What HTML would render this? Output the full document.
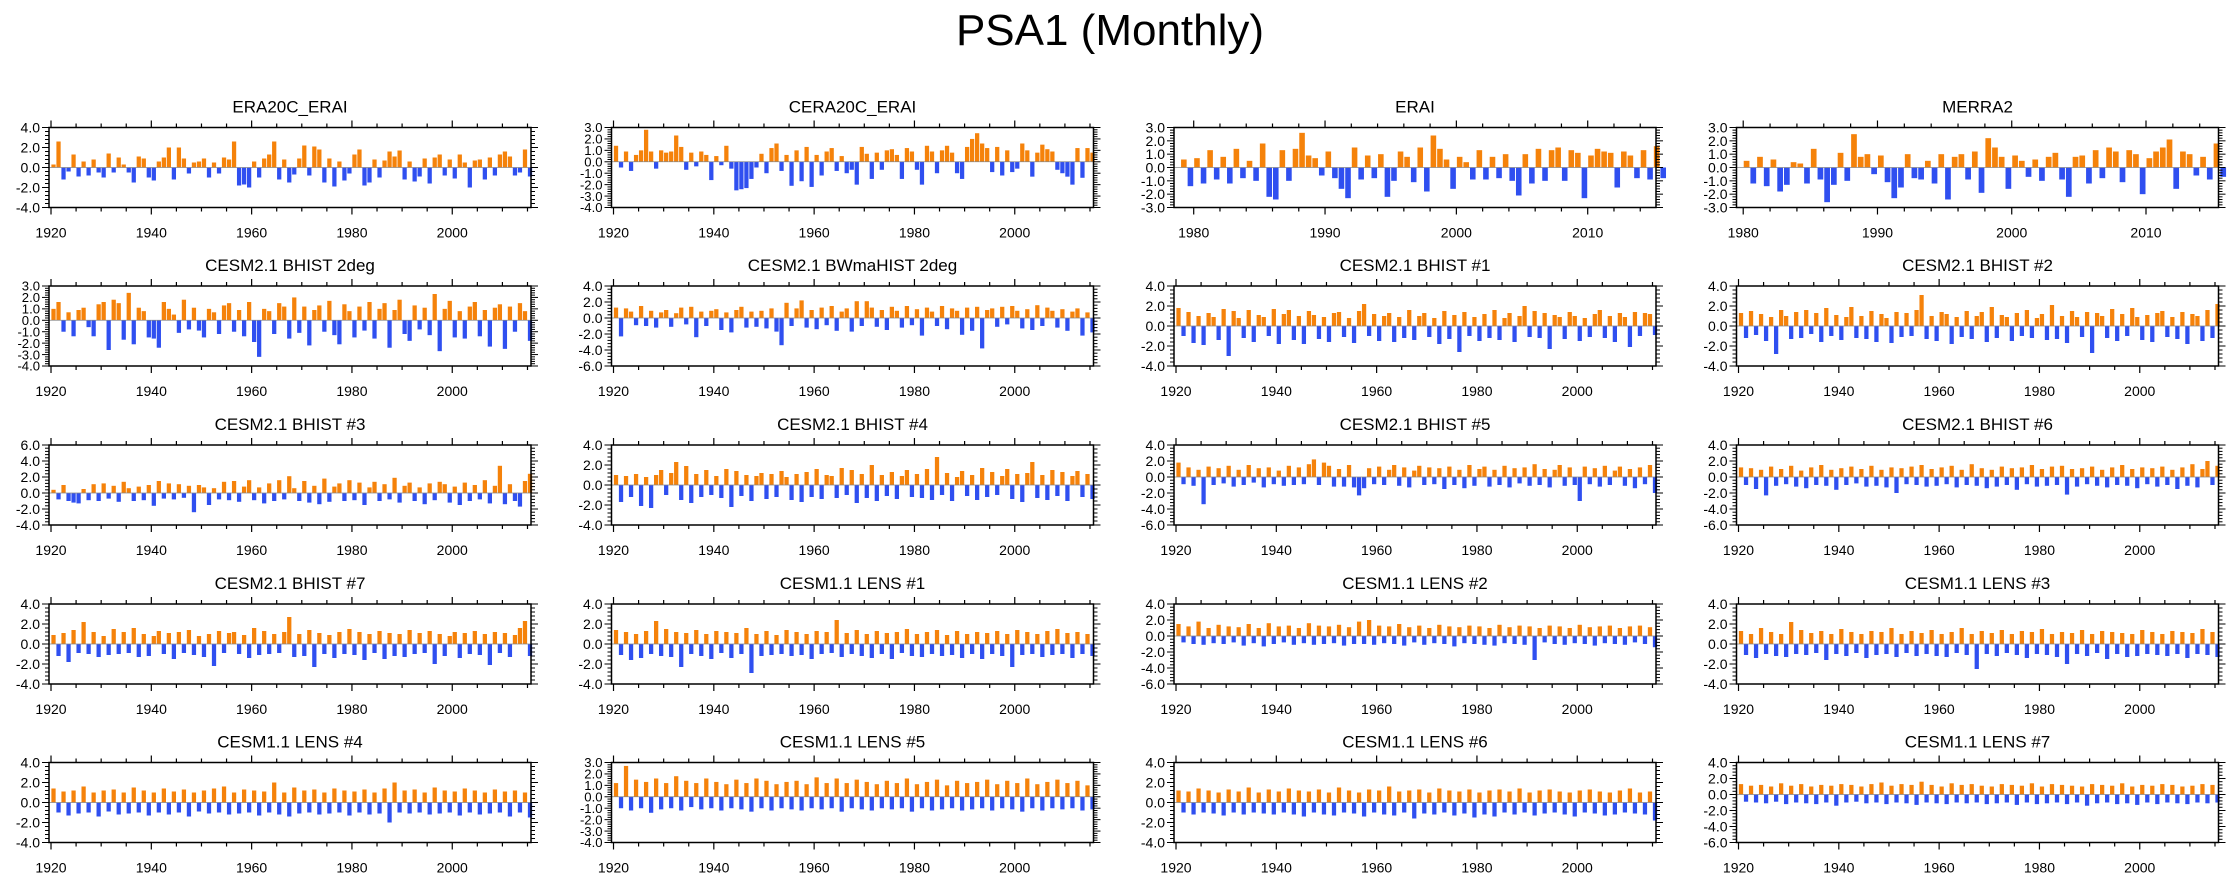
<!DOCTYPE html>
<html>
<head>
<meta charset="utf-8">
<style>
html,body{margin:0;padding:0;background:#fff;}
svg{display:block;font-family:"Liberation Sans",Arial,sans-serif;}
</style>
</head>
<body>
<svg id="chart" width="2238" height="877" viewBox="0 0 2238 877" xmlns="http://www.w3.org/2000/svg">
<rect x="0" y="0" width="2238" height="877" fill="#fff"/>
<text x="1110" y="45" font-size="44" text-anchor="middle" fill="#000">PSA1 (Monthly)</text>
</svg>
<script>
// ---- panel metadata ----
const panelTitles = ["ERA20C_ERAI","CERA20C_ERAI","ERAI","MERRA2",
 "CESM2.1 BHIST 2deg","CESM2.1 BWmaHIST 2deg","CESM2.1 BHIST #1","CESM2.1 BHIST #2",
 "CESM2.1 BHIST #3","CESM2.1 BHIST #4","CESM2.1 BHIST #5","CESM2.1 BHIST #6",
 "CESM2.1 BHIST #7","CESM1.1 LENS #1","CESM1.1 LENS #2","CESM1.1 LENS #3",
 "CESM1.1 LENS #4","CESM1.1 LENS #5","CESM1.1 LENS #6","CESM1.1 LENS #7"];
const yMins = [-4,-4,-3,-3, -4,-6,-4,-4, -4,-4,-6,-6, -4,-4,-6,-4, -4,-4,-4,-6];
const yMaxs = [4,3,3,3, 3,4,4,4, 6,4,4,4, 4,4,4,4, 4,3,4,4];
const ySteps = [2,1,1,1, 1,2,2,2, 2,2,2,2, 2,2,2,2, 2,1,2,2];
const longTicks = [1920,1940,1960,1980,2000];
const shortTicks = [1980,1990,2000,2010];

// ---- series values (yearly for 1920-2015 panels, half-yearly for reanalysis 1979/1980-2015) ----
const vEra20c = [0.3,2.6,-1.2,-0.4,1.3,-0.9,0.6,-0.8,0.8,-0.5,-1.0,1.4,
-0.5,1.0,0.3,-0.5,-1.5,1.1,0.9,-1.0,-1.3,0.6,1.0,2.0,
-1.2,2.0,0.9,-0.6,0.5,0.6,0.9,-1.0,0.5,-0.6,1.0,0.8,
2.6,-1.8,-1.7,-2.0,0.6,-1.0,0.9,1.3,2.6,-1.2,0.8,-1.5,
-0.7,0.9,2.2,-0.8,2.1,1.8,-1.5,0.9,-1.9,0.6,-1.3,-0.6,
1.3,1.8,-1.8,-1.5,0.8,-1.0,0.7,1.6,1.1,1.7,-1.2,0.6,
-1.4,-0.9,0.9,-1.6,1.0,1.3,-0.8,0.8,-1.1,1.3,0.5,-2.0,
0.7,0.8,-1.2,1.0,-0.8,1.3,1.6,1.1,-0.8,-0.5,1.8,-0.9];
const vCera20c = [1.4,-0.5,0.9,-0.8,0.6,1.0,2.8,0.9,-0.6,1.0,0.8,0.9,
2.3,1.3,-0.7,0.8,-0.4,0.9,0.6,-1.6,0.5,-0.3,1.4,-0.6,
-2.5,-2.4,-2.3,-1.5,-0.5,0.7,-1.0,1.2,1.6,-0.8,0.6,-2.1,
1.0,-1.7,1.3,-2.2,0.6,-1.2,0.9,1.2,-0.8,0.5,-1.0,-0.7,
-2.0,1.3,0.7,-1.5,0.8,-0.7,1.0,1.1,0.6,-1.5,1.2,0.9,
-0.7,-2.0,1.4,0.9,-1.0,1.0,1.4,0.8,-1.0,-1.5,1.3,2.0,
2.5,1.6,1.2,-0.9,1.3,-1.2,1.0,-0.9,-0.6,1.6,1.0,-1.3,
0.8,1.5,1.1,0.9,-0.7,-1.0,-1.3,-2.0,1.2,-1.4,1.2,0.8];
const vErai = [0.6,-1.4,0.7,-1.2,1.3,-0.9,0.8,-1.2,1.4,-0.8,0.5,-1.0,1.8,-2.2,-2.4,1.3,-1.0,1.4,2.6,0.9,
0.7,-0.6,1.2,-0.8,-1.6,-2.3,1.5,-0.9,0.9,-0.8,1.0,-2.2,-1.0,1.2,0.8,-1.1,1.5,-1.8,2.4,1.4,
0.6,-1.6,0.8,0.4,-0.9,1.3,-0.9,0.8,-0.8,1.0,-1.0,-2.1,1.0,-1.2,1.4,-1.0,1.3,1.5,-1.0,1.3,
1.1,-2.3,0.9,1.4,1.2,1.1,-1.5,1.2,0.9,-0.8,1.3,-0.9,1.6,-0.8];
const vMerra2 = [0.5,-1.2,0.8,-1.4,0.6,-1.8,-1.3,0.4,0.3,-1.2,1.4,-0.9,-2.6,-1.3,1.1,-1.0,2.5,0.8,
1.0,-0.5,0.9,-1.1,-2.3,-1.5,1.0,-0.8,-0.9,0.5,-1.2,1.0,-2.4,0.8,1.0,-0.9,1.2,-1.9,2.2,1.5,
0.8,-1.6,0.9,0.5,-0.7,0.6,-1.0,0.8,1.1,-0.9,-2.2,0.8,0.9,-1.2,1.3,-0.8,1.5,1.2,-1.1,1.3,
1.0,-2.0,0.7,1.2,1.5,2.1,-1.6,1.2,1.0,-0.6,0.8,-0.9,1.8,-0.7];
const vBhist2deg = [1.0,1.6,-1.0,0.7,-1.4,0.9,1.1,-0.6,-1.4,1.4,1.6,-2.6,
1.8,1.5,-1.7,2.4,-2.1,1.1,0.8,-1.5,-1.6,-2.4,1.6,1.0,
0.5,-1.1,1.8,-0.8,1.1,-0.9,-1.5,1.0,0.7,-1.2,1.3,1.5,
-1.0,0.9,-1.4,1.6,-1.9,-3.2,1.0,0.8,-1.2,1.5,1.2,-1.6,
2.0,-1.1,1.2,-2.2,0.9,1.3,-1.0,1.7,-1.3,-2.1,1.4,0.8,
-1.5,1.2,-0.9,1.6,-1.6,1.0,1.5,-2.4,0.9,1.8,-1.2,-1.8,
1.3,-0.8,1.1,-1.3,2.3,-2.7,1.0,1.7,-1.5,0.8,-1.6,1.2,
1.6,-1.4,0.9,-2.3,1.1,1.4,-2.5,1.2,-1.0,1.5,0.8,-1.8];
const vBwma = [1.3,-2.3,1.2,0.8,-0.9,1.5,-1.0,0.9,-1.2,0.7,1.0,-1.1,
0.6,1.3,-0.8,1.4,-2.4,0.8,-1.0,0.9,1.1,-1.5,0.7,-1.8,
1.0,1.4,-1.2,0.8,-1.1,0.9,-1.3,1.2,-1.7,-3.4,1.9,-1.0,
1.2,2.2,-1.2,1.0,-1.4,1.3,-0.9,1.5,-1.6,0.8,1.2,-1.7,
2.1,-1.0,2.1,1.3,-1.1,1.0,-1.5,1.4,0.9,-1.2,1.5,-0.9,
1.1,-2.2,1.3,0.8,-1.0,1.5,-1.4,1.2,0.9,-2.1,1.3,-1.6,
1.4,-3.8,1.0,1.2,-1.1,1.4,-0.8,1.5,0.9,-1.3,1.1,-1.5,
1.6,-1.0,1.3,0.9,-1.2,1.1,-1.6,0.8,1.2,-2.2,0.7,-1.8];
const vBhist1 = [1.8,-1.0,1.4,-1.7,1.0,-1.9,1.3,0.9,-1.4,1.7,-3.0,1.5,
0.8,-1.2,1.6,-1.6,1.1,0.9,-1.0,1.7,-1.8,1.2,1.6,-1.4,
1.0,-1.8,1.5,1.1,-1.3,0.9,-1.6,1.3,1.4,-1.1,0.8,-1.7,
1.5,2.2,-1.0,1.2,-1.5,1.0,1.3,-1.6,0.9,-1.2,1.6,-1.4,
1.0,1.3,-1.1,0.8,-1.8,1.5,-1.3,1.1,-2.6,1.4,-1.0,0.9,
-1.5,1.2,-1.2,1.6,-1.4,0.8,1.3,-1.6,1.0,2.0,-1.1,1.5,
-1.2,1.3,-2.3,1.1,0.9,-1.3,1.4,1.0,-1.5,0.8,-1.1,1.2,
1.6,-1.2,1.0,-1.6,1.3,0.9,-2.1,1.4,-1.0,1.3,1.2,-0.9];
const vBhist2 = [1.3,-1.2,1.5,-0.9,1.2,-1.5,0.9,-2.8,1.6,1.0,-1.3,1.4,
-1.2,1.6,-0.8,1.3,-1.6,1.8,-1.0,1.1,-1.4,0.9,1.9,-1.2,
1.0,-1.3,1.5,-1.6,1.2,0.8,-1.7,1.4,-1.1,1.3,-1.0,1.6,
3.1,-1.3,1.0,-1.5,1.4,1.2,-1.8,0.9,-1.1,1.5,-1.3,1.0,
1.4,-1.6,1.9,-1.2,1.1,0.9,-1.5,1.3,-1.0,1.6,-1.2,0.8,
1.2,-1.4,2.1,-1.3,1.0,-1.7,1.5,0.9,-1.1,1.4,-2.7,1.3,
1.0,-1.2,1.7,-1.5,1.2,-1.0,1.8,0.9,-1.4,1.1,-1.6,1.3,
1.5,-1.1,0.9,-1.3,1.4,-1.8,1.2,1.0,-1.5,1.6,-1.2,2.2];
const vBhist3 = [0.4,-0.8,1.0,-1.0,-1.2,-1.3,0.5,-0.9,1.1,-1.0,1.2,-0.7,
0.9,-1.1,1.4,0.6,-1.0,0.8,-0.9,1.0,-1.6,1.5,-0.7,1.2,
-0.8,1.1,-0.6,0.9,-2.4,1.0,0.7,-1.5,0.6,-0.8,1.4,-0.9,
1.5,-1.1,0.8,1.6,-0.9,0.7,-1.3,1.2,-1.0,1.6,-0.8,2.1,
0.6,-1.0,1.5,-1.2,0.9,-1.4,1.8,-1.1,0.8,1.2,-1.0,1.6,
-0.9,1.3,-1.5,0.7,1.4,-1.0,1.1,-0.8,1.9,-1.2,0.9,1.3,
-1.0,0.7,-1.4,1.2,-0.9,1.4,1.1,-1.2,0.8,-1.5,1.3,-1.0,
1.0,-0.8,1.6,-1.3,0.9,3.4,-1.4,1.1,-1.0,-1.7,1.5,2.4];
const vBhist4 = [1.0,-1.7,0.9,-1.2,1.1,-2.1,0.8,-2.3,1.0,1.5,-1.0,1.2,
2.3,-1.5,1.9,-1.8,1.1,-1.2,1.5,-1.0,0.9,-1.3,1.6,-2.2,
1.4,-1.1,1.0,-1.6,0.9,1.2,-1.4,1.1,-1.2,1.4,0.8,-1.5,
1.1,-1.7,1.3,-1.2,1.6,-1.4,1.0,0.9,-1.3,1.7,-1.0,1.5,
-1.8,1.1,-1.3,2.0,-1.6,1.0,-1.1,1.3,-1.4,0.9,1.5,-1.2,
1.1,-1.3,1.6,-1.5,2.8,-1.0,1.2,-1.6,0.8,1.4,-1.1,1.0,
-1.5,1.7,-1.2,1.3,-1.0,0.9,1.6,-1.4,1.1,-1.7,1.2,2.3,
-1.3,1.0,-1.5,1.5,-1.1,1.3,-1.6,0.9,1.4,-1.2,1.1,-1.4];
const vBhist5 = [1.8,-0.9,1.2,-1.1,0.9,-3.4,1.3,-1.0,1.1,-0.8,1.4,-1.2,
0.9,-1.0,1.5,-0.7,1.1,-1.3,1.2,-0.9,0.8,-1.1,1.4,-1.0,
1.2,-0.9,1.6,2.2,-1.0,1.8,1.4,-1.2,1.0,-1.2,1.5,-1.3,
-2.3,-1.4,1.1,-0.9,1.3,-1.0,0.9,1.5,-1.1,1.2,-1.3,0.8,
1.4,-1.0,1.2,-0.9,1.1,-1.5,1.3,-1.0,0.9,-1.4,1.5,-1.1,
1.0,1.3,-1.2,0.9,-1.0,1.4,-1.3,1.1,-0.8,1.2,-1.1,1.6,
-1.0,1.0,-1.3,0.9,1.5,-1.1,1.2,-1.0,-3.0,1.3,-0.9,1.1,
-1.2,1.4,-1.0,0.8,1.3,-1.1,1.0,-1.4,1.2,-0.9,1.5,-2.0];
const vBhist6 = [1.2,-1.0,1.1,-1.5,0.9,-2.3,1.3,-1.1,1.0,-0.9,1.4,-1.2,
0.8,-1.4,1.2,-1.0,1.5,-1.1,0.9,-1.6,1.1,-1.0,1.3,-0.8,
1.0,-1.2,1.4,-1.1,0.9,-1.3,1.2,-2.0,1.1,-0.9,1.3,-1.0,
1.5,-1.2,1.0,-1.1,1.2,-0.9,1.4,-1.3,0.9,-1.0,1.6,-1.1,
1.1,-1.4,0.9,-1.2,1.3,-1.0,1.1,-1.6,1.2,-0.9,1.5,-1.2,
1.0,-1.1,1.3,-1.0,1.4,-2.2,1.0,-1.2,1.1,-0.9,1.3,-1.1,
0.9,-1.3,1.2,-1.0,1.5,-1.1,1.0,-1.4,1.2,-0.9,1.1,-1.2,
1.3,-1.0,0.9,-1.5,1.2,-1.1,1.6,-1.3,1.0,2.0,-1.0,1.4];
const vBhist7 = [0.9,-1.2,1.1,-1.8,1.4,-0.9,2.2,-1.0,1.2,-1.3,0.8,-1.1,
1.5,-1.0,1.2,-0.9,1.6,-1.3,1.0,-1.2,0.8,1.3,-1.0,1.1,
-1.5,1.2,-0.9,1.4,-1.1,0.8,-1.3,1.0,-2.2,1.3,-0.9,1.1,
1.2,-1.0,0.9,-1.4,1.6,-1.1,1.3,-1.0,1.0,-0.9,1.2,2.7,
-1.3,1.0,-1.2,1.4,-2.3,1.1,-1.0,0.9,-1.4,1.2,-1.0,1.5,
-1.1,1.2,-1.6,1.0,-0.9,1.3,-1.5,1.1,-1.2,1.0,-1.3,1.4,
-1.0,1.1,-0.9,1.3,-2.0,1.0,-1.2,0.8,1.2,-1.4,1.1,-1.0,
1.3,-1.1,1.0,-2.1,1.2,-0.9,1.1,-1.3,0.9,1.6,2.3,-1.2];
const vLens1 = [1.4,-1.1,1.2,-1.6,1.0,-1.4,1.3,-1.0,2.3,-1.2,1.5,-1.3,
1.2,-2.3,1.1,-1.0,1.4,-1.2,1.0,-1.5,1.3,-0.9,1.2,-1.4,
1.1,-1.0,1.6,-2.9,1.0,-1.2,1.3,-1.1,0.9,-1.0,1.4,-1.2,
1.2,-1.1,1.0,-1.5,1.3,-1.0,1.2,-0.9,2.4,-1.3,1.1,-1.0,
1.4,-1.2,1.0,-1.4,1.3,-1.0,1.1,-1.5,1.2,-0.9,1.5,-1.2,
1.0,-1.3,1.2,-1.0,1.4,-1.2,0.9,-1.1,1.3,-1.4,1.0,-1.0,
1.2,-1.5,1.1,-1.0,1.3,-1.2,1.0,-2.3,1.4,-1.1,1.2,-1.0,
1.0,-1.3,1.3,-1.1,1.5,-1.0,1.1,-1.4,1.2,-1.0,1.0,-1.2];
const vLens2 = [1.5,-0.8,1.2,-1.0,1.8,-1.1,1.0,-0.9,1.4,-1.0,1.2,-0.8,
1.1,-1.2,1.5,-0.9,1.0,-1.3,1.6,-1.0,1.2,-0.8,1.3,-1.1,
1.0,-0.9,1.6,-1.1,1.3,-1.0,1.2,-0.9,1.4,-1.2,1.1,-1.0,
1.8,-1.0,2.0,-1.1,1.3,-0.9,1.2,-1.0,1.5,-1.2,1.1,-0.8,
1.3,-1.1,1.0,-0.9,1.4,-1.0,1.2,-1.3,1.1,-0.9,1.3,-1.0,
1.2,-1.1,1.0,-1.2,1.4,-0.9,1.1,-1.0,1.3,-1.1,1.2,-3.0,
1.0,-0.8,1.3,-1.0,1.2,-1.1,1.0,-0.9,1.4,-1.0,1.1,-1.2,
1.2,-0.9,1.3,-1.0,1.0,-1.1,1.2,-0.8,1.3,-1.0,1.1,-1.4];
const vLens3 = [1.3,-1.1,1.0,-1.4,1.6,-1.0,1.2,-1.2,1.0,-1.3,2.2,-1.0,
1.4,-1.1,1.1,-0.9,1.3,-1.6,1.0,-1.0,1.5,-1.2,1.2,-0.9,
1.0,-1.4,1.3,-1.1,1.2,-1.0,1.6,-1.3,1.0,-0.9,1.3,-1.2,
1.1,-1.0,1.4,-1.2,1.0,-1.3,1.2,-0.9,1.6,-1.1,1.0,-2.5,
1.3,-1.0,1.1,-1.2,1.4,-0.9,1.0,-1.1,1.3,-1.4,1.2,-1.0,
1.5,-1.1,1.0,-1.3,1.2,-2.0,1.1,-1.0,1.4,-1.2,1.0,-0.9,
1.3,-1.5,1.2,-1.0,1.1,-1.3,1.0,-1.2,1.4,-1.0,1.2,-1.1,
1.0,-1.2,1.3,-1.0,1.2,-1.4,1.1,-1.0,1.5,-1.1,1.2,-1.3];
const vLens4 = [1.4,-1.0,1.1,-1.3,1.2,-1.1,1.6,-1.0,1.0,-1.4,1.2,-0.9,
1.3,-1.2,1.0,-1.1,1.5,-1.0,1.2,-1.3,1.0,-1.0,1.4,-1.2,
1.1,-1.0,1.3,-1.4,1.0,-0.9,1.2,-1.1,1.4,-1.0,1.6,-1.2,
1.0,-1.1,1.3,-1.0,1.2,-1.3,1.1,-1.0,2.0,-1.2,1.0,-1.4,
1.5,-1.1,1.2,-1.0,1.3,-1.2,1.0,-1.1,1.4,-1.0,1.2,-1.3,
1.1,-1.0,1.3,-1.2,1.0,-1.1,1.4,-2.0,2.0,-1.0,1.2,-1.1,
1.3,-1.0,1.0,-1.2,1.5,-1.1,1.2,-1.0,1.1,-1.3,1.4,-1.0,
1.2,-1.2,1.0,-1.1,1.3,-1.0,1.1,-1.4,1.2,-1.0,1.0,-1.5];
const vLens5 = [1.2,-1.0,2.7,-1.2,1.5,-1.0,1.3,-1.4,1.6,-1.1,1.2,-1.0,
1.8,-1.2,1.4,-0.9,1.2,-1.1,1.6,-1.0,1.3,-1.2,1.1,-1.0,
1.5,-1.1,1.2,-1.3,1.6,-1.0,1.4,-1.2,1.1,-1.0,1.3,-1.1,
1.4,-1.2,1.1,-1.0,1.7,-1.1,1.2,-1.0,1.6,-1.3,1.2,-1.0,
1.5,-1.1,1.3,-1.2,1.1,-1.0,1.4,-1.1,1.2,-1.0,1.6,-1.3,
1.1,-1.0,1.3,-1.2,1.5,-1.1,1.0,-1.0,1.4,-1.2,1.2,-1.1,
1.3,-1.0,1.5,-1.2,1.1,-1.0,1.4,-1.1,1.2,-1.3,1.6,-1.0,
1.1,-1.2,1.3,-1.0,1.5,-1.1,1.2,-1.0,1.4,-1.2,1.0,-1.1];
const vLens6 = [1.2,-1.0,1.1,-1.2,1.4,-1.0,1.2,-1.1,1.0,-1.3,1.3,-1.0,
1.1,-1.2,1.5,-1.0,1.0,-1.1,1.3,-1.2,1.1,-1.0,1.4,-1.2,
1.2,-1.4,1.1,-1.0,1.3,-1.2,1.0,-1.3,1.5,-1.0,1.2,-1.1,
1.0,-1.4,1.3,-1.0,1.2,-1.2,1.6,-1.3,1.1,-1.0,1.2,-1.6,
1.3,-1.1,1.0,-1.2,1.4,-1.0,1.2,-1.3,1.1,-1.1,1.3,-1.5,
1.0,-1.2,1.2,-1.4,1.3,-1.0,1.1,-1.2,1.4,-1.0,1.0,-1.3,
1.2,-1.1,1.3,-1.0,1.1,-1.2,1.0,-1.4,1.2,-1.0,1.3,-1.1,
1.1,-1.3,1.0,-1.2,1.2,-1.0,1.4,-1.1,1.0,-1.2,1.1,-1.8];
const vLens7 = [1.3,-0.9,1.1,-1.0,1.2,-1.1,1.0,-0.9,1.4,-1.2,1.1,-1.0,
1.3,-1.1,1.0,-1.2,1.2,-1.0,1.1,-1.4,1.3,-1.0,1.2,-0.9,
1.0,-1.1,1.3,-1.0,1.5,-1.2,1.1,-1.0,1.3,-1.1,1.2,-1.3,
1.6,-1.0,1.2,-1.1,1.0,-1.2,1.4,-1.0,1.2,-1.1,1.3,-1.0,
1.1,-1.2,1.0,-1.1,1.3,-1.0,1.2,-1.3,1.1,-1.0,1.4,-1.2,
1.0,-1.1,1.3,-1.0,1.2,-1.2,1.1,-1.0,1.0,-1.4,1.3,-1.1,
1.2,-1.0,1.1,-1.2,1.4,-1.1,1.0,-1.3,1.2,-1.0,1.1,-1.2,
1.3,-1.0,1.2,-1.1,1.0,-1.2,1.1,-1.0,1.3,-1.1,1.2,-1.0];

const seriesList = [vEra20c,vCera20c,vErai,vMerra2,vBhist2deg,vBwma,vBhist1,vBhist2,
 vBhist3,vBhist4,vBhist5,vBhist6,vBhist7,vLens1,vLens2,vLens3,vLens4,vLens5,vLens6,vLens7];
const seriesStart = [1920,1920,1979,1980, 1920,1920,1920,1920, 1920,1920,1920,1920, 1920,1920,1920,1920, 1920,1920,1920,1920];
const seriesPerYear = [1,1,2,2, 1,1,1,1, 1,1,1,1, 1,1,1,1, 1,1,1,1];

// ---- layout ----
const NS = "http://www.w3.org/2000/svg";
const svg = document.getElementById("chart");
const colX = [49, 611.5, 1174, 1736.5];
const rowY = [127.5, 286, 445, 604, 762.5];
const boxW = 482, boxH = 80;
const ORANGE = "#f5820a", BLUE = "#2f4ff0";

function mk(tag, attrs, parent){
  const e = document.createElementNS(NS, tag);
  for (const k in attrs) e.setAttribute(k, attrs[k]);
  (parent||svg).appendChild(e);
  return e;
}

seriesList.forEach((vals, p) => {
  const col = p % 4, row = Math.floor(p / 4);
  const x0 = colX[col], y0 = rowY[row];
  const isShort = seriesStart[p] !== 1920;
  const xMin = p === 2 ? 1978.5 : (p === 3 ? 1979.5 : 1919.6);
  const xMax = p === 2 ? 2015.2 : (p === 3 ? 2015.4 : 2015.7);
  const xs = v => x0 + (v - xMin) / (xMax - xMin) * boxW;
  const yMin = yMins[p], yMax = yMaxs[p];
  const ys = v => y0 + boxH - (v - yMin) / (yMax - yMin) * boxH;

  const g = mk("g", {});
  
  

  const t = mk("text", {x: x0 + boxW/2, y: y0 - 15, "font-size": 17, "text-anchor": "middle", fill: "#000"}, g);
  t.textContent = panelTitles[p];
  
  

  // bars
  const per = seriesPerYear[p];
  const slotYears = 1 / per;
  const bw = Math.max(1.5, (xs(xMin + slotYears) - xs(xMin)) * 0.85);
  const zeroY = ys(0);
  vals.forEach((v, i) => {
    const tc = seriesStart[p] + (i + 0.5) * slotYears;
    const cx = xs(tc);
    const yv = ys(v);
    const r = mk("rect", {x: (cx - bw/2).toFixed(2), y: Math.min(yv, zeroY).toFixed(2),
      width: bw.toFixed(2), height: Math.abs(yv - zeroY).toFixed(2), fill: v >= 0 ? ORANGE : BLUE}, g);
    
    
  });
  // zero line
  const zl = mk("line", {x1: x0, x2: x0 + boxW, y1: zeroY, y2: zeroY, stroke: "#888", "stroke-width": 0.8}, g);
  
  

  // box
  const bx = mk("rect", {x: x0, y: y0, width: boxW, height: boxH, fill: "none", stroke: "#000", "stroke-width": 1.5}, g);
  
  

  // x ticks
  const majors = isShort ? shortTicks : longTicks;
  const minorStep = isShort ? 2 : 5;
  for (let yr = Math.ceil(xMin / minorStep) * minorStep; yr <= xMax; yr += minorStep) {
    const isMaj = majors.indexOf(yr) >= 0;
    const L = isMaj ? 7 : 4;
    const xx = xs(yr);
    mk("line", {x1: xx, x2: xx, y1: y0, y2: y0 - L, stroke: "#000", "stroke-width": 1.2}, g);
    mk("line", {x1: xx, x2: xx, y1: y0 + boxH, y2: y0 + boxH + L, stroke: "#000", "stroke-width": 1.2}, g);
  }
  majors.forEach(yr => {
    const tl = mk("text", {x: xs(yr), y: y0 + boxH + 30, "font-size": 14, "text-anchor": "middle", fill: "#000"}, g);
    tl.textContent = String(yr);
    
    
  });

  // y ticks
  const step = ySteps[p];
  const minor = step / 5;
  const nMinor = Math.round((yMax - yMin) / minor);
  for (let k = 0; k <= nMinor; k++) {
    const v = yMin + k * minor;
    const isMaj = k % 5 === 0;
    const L = isMaj ? 7 : 4;
    const yy = ys(v);
    mk("line", {x1: x0, x2: x0 - L, y1: yy, y2: yy, stroke: "#000", "stroke-width": 1}, g);
    mk("line", {x1: x0 + boxW, x2: x0 + boxW + L, y1: yy, y2: yy, stroke: "#000", "stroke-width": 1}, g);
  }
  const spacing = step / (yMax - yMin) * boxH;
  const fs = Math.min(14, spacing * 1.15);
  for (let v = yMin; v <= yMax + 1e-9; v += step) {
    const yl = mk("text", {x: x0 - 9, y: ys(v) + fs * 0.36, "font-size": fs.toFixed(1), "text-anchor": "end", fill: "#000"}, g);
    yl.textContent = v.toFixed(1);
    
    
  }
});
</script>
</body>
</html>
